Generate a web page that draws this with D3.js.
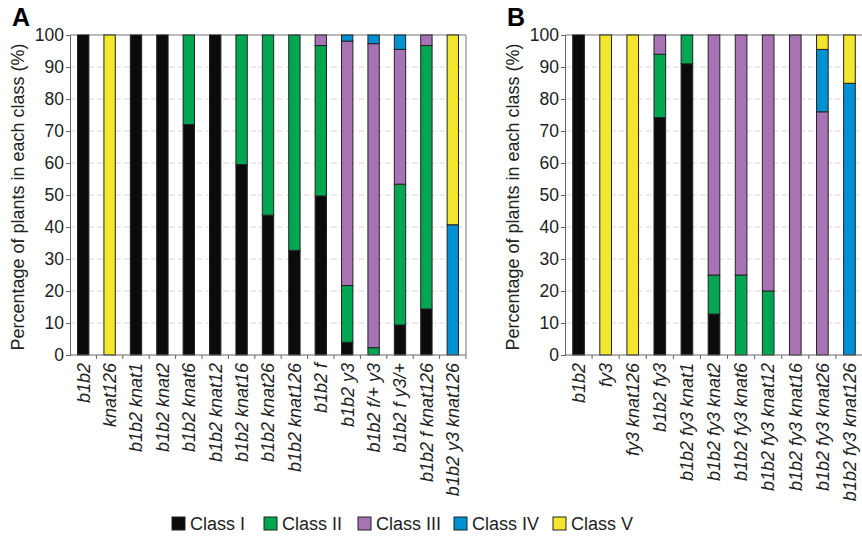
<!DOCTYPE html>
<html lang="en">
<head>
<meta charset="utf-8">
<title>Plant classes</title>
<script src="https://d3js.org/d3.v7.min.js"></script>
<style>
    body { margin: 0; background: white; }
    svg { font-family: "Liberation Sans", Arial, sans-serif; }
    .grid line { stroke: #d8d8d8; stroke-dasharray: 6,3; }
    .axis path, .axis line { stroke: #666; }
    .axis text { font-size: 17.5px; fill: #222; }
    .xlab text { font-style: italic; font-size: 18px; }
    .bar { stroke: #222; stroke-width: 1; }
</style>
</head>
<body>
<script>
    var classes = ["Class I", "Class II", "Class III", "Class IV", "Class V"];
    var colors = ["#0b0b0b", "#00a651", "#a873b5", "#0090d4", "#f3e62d"];

    // panel A: percentage per class (I..V) for each genotype
    var genotypesA = ["b1b2", "knat126", "b1b2 knat1", "b1b2 knat2", "b1b2 knat6", "b1b2 knat12",
        "b1b2 knat16", "b1b2 knat26", "b1b2 knat126", "b1b2 f", "b1b2 y3", "b1b2 f/+ y3",
        "b1b2 f y3/+", "b1b2 f knat126", "b1b2 y3 knat126"];
    var classIA   = [100, 0, 100, 100, 72, 100, 59.5, 43.7, 32.7, 49.7, 4, 0, 9.4, 14.4, 0];
    var classIIA  = [0, 0, 0, 0, 28, 0, 40.5, 56.3, 67.3, 47, 17.7, 2.3, 44, 82.3, 0];
    var classIIIA = [0, 0, 0, 0, 0, 0, 0, 0, 0, 3.3, 76.4, 95, 42.1, 3.3, 0];
    var classIVA  = [0, 0, 0, 0, 0, 0, 0, 0, 0, 0, 1.9, 2.7, 4.5, 0, 40.7];
    var classVA   = [0, 100, 0, 0, 0, 0, 0, 0, 0, 0, 0, 0, 0, 0, 59.3];

    // panel B
    var genotypesB = ["b1b2", "fy3", "fy3 knat126", "b1b2 fy3", "b1b2 fy3 knat1", "b1b2 fy3 knat2",
        "b1b2 fy3 knat6", "b1b2 fy3 knat12", "b1b2 fy3 knat16", "b1b2 fy3 knat26", "b1b2 fy3 knat126"];
    var classIB   = [100, 0, 0, 74.2, 91, 12.8, 0, 0, 0, 0, 0];
    var classIIB  = [0, 0, 0, 19.8, 9, 12.2, 25, 20, 0, 0, 0];
    var classIIIB = [0, 0, 0, 6, 0, 75, 75, 80, 100, 76, 0];
    var classIVB  = [0, 0, 0, 0, 0, 0, 0, 0, 0, 19.5, 84.9];
    var classVB   = [0, 100, 100, 0, 0, 0, 0, 0, 0, 4.5, 15.1];

    var yTicks = [0, 10, 20, 30, 40, 50, 60, 70, 80, 90, 100];

    var svg = d3.select("body").append("svg")
        .attr("width", 862)
        .attr("height", 540);

    function drawPanel(letter, left, right, names, series) {
        var top = 35, bottom = 355;
        var x = d3.scaleBand().domain(names).range([left, right]);
        var y = d3.scaleLinear().domain([0, 100]).range([bottom, top]);
        var barW = x.bandwidth() * 0.43;

        var rows = names.map(function (n, i) {
            var r = { name: n };
            series.forEach(function (s, k) { r[k] = s[i]; });
            return r;
        });
        var stack = d3.stack().keys(d3.range(series.length))(rows);

        var g = svg.append("g");

        g.append("g").attr("class", "grid")
            .selectAll("line")
            .data(yTicks.slice(1, -1)).enter()
            .append("line")
            .attr("x1", left).attr("x2", right)
            .attr("y1", d => y(d)).attr("y2", d => y(d));

        // frame top and right
        g.append("path")
            .attr("d", `M${left},${top}H${right}V${bottom}`)
            .attr("fill", "none")
            .attr("stroke", "#777");

        stack.forEach(function (layer, k) {
            g.append("g").selectAll("rect")
                .data(layer.filter(d => d[1] - d[0] > 0)).enter()
                .append("rect")
                .attr("class", "bar")
                .attr("x", d => x(d.data.name) + (x.bandwidth() - barW) / 2)
                .attr("width", barW)
                .attr("y", d => y(d[1]))
                .attr("height", d => y(d[0]) - y(d[1]))
                .attr("fill", colors[k]);
        });

        g.append("g").attr("class", "axis")
            .attr("transform", `translate(${left},0)`)
            .call(d3.axisLeft(y).tickValues(yTicks).tickSize(4).tickPadding(2));

        // x axis with ticks at band boundaries
        var xa = g.append("g").attr("class", "axis xlab");
        xa.append("line")
            .attr("x1", left).attr("x2", right)
            .attr("y1", bottom).attr("y2", bottom);
        xa.selectAll("line.tk")
            .data(names).enter()
            .append("line")
            .attr("class", "tk")
            .attr("x1", d => x(d) + x.bandwidth()).attr("x2", d => x(d) + x.bandwidth())
            .attr("y1", bottom).attr("y2", bottom + 4);
        xa.selectAll("text")
            .data(names).enter()
            .append("text")
            .attr("transform", d => `translate(${x(d) + x.bandwidth() / 2},${bottom + 8}) rotate(-90)`)
            .attr("dy", "0.35em")
            .attr("text-anchor", "end")
            .text(d => d);

        g.append("text")
            .attr("x", left - 58)
            .attr("y", 26)
            .attr("font-size", 25)
            .attr("font-weight", "bold")
            .text(letter);

        g.append("text")
            .attr("transform", `translate(${left - 46},${(top + bottom) / 2 + 2}) rotate(-90)`)
            .attr("text-anchor", "middle")
            .attr("font-size", 18)
            .attr("fill", "#222")
            .text("Percentage of plants in each class (%)");
    }

    drawPanel("A", 70, 466, genotypesA, [classIA, classIIA, classIIIA, classIVA, classVA]);
    drawPanel("B", 565, 863, genotypesB, [classIB, classIIB, classIIIB, classIVB, classVB]);

    // legend
    var legX = [172, 264, 358, 454, 553];
    var legend = svg.append("g").selectAll("g")
        .data(classes).enter()
        .append("g")
        .attr("transform", (d, i) => `translate(${legX[i]},517)`);
    legend.append("rect")
        .attr("width", 13).attr("height", 13)
        .attr("fill", (d, i) => colors[i])
        .attr("stroke", "#222");
    legend.append("text")
        .attr("x", 18).attr("y", 13)
        .attr("font-size", 18)
        .attr("fill", "#222")
        .text(d => d);
</script>
</body>
</html>
